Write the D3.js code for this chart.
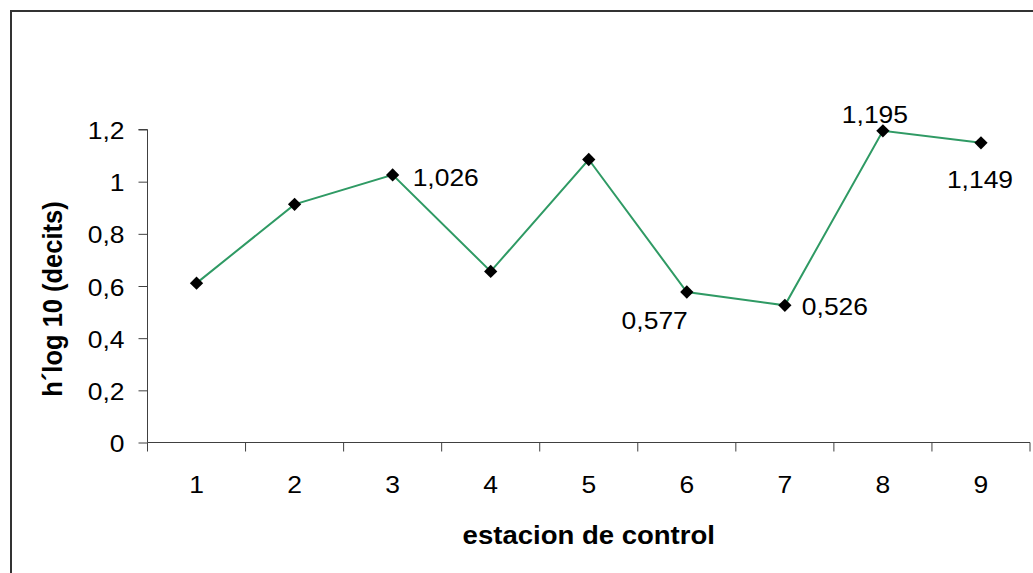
<!DOCTYPE html>
<html>
<head>
<meta charset="utf-8">
<script src="https://cdn.jsdelivr.net/npm/d3@7"></script>
<style>
  html, body { margin: 0; padding: 0; background: #fff; }
  svg { display: block; }
  text { font-family: "Liberation Sans", Arial, sans-serif; fill: #000; }
</style>
</head>
<body>
<svg id="chart" width="1033" height="573"></svg>
<script>
const categories = ["1", "2", "3", "4", "5", "6", "7", "8", "9"];
const values = [0.611, 0.913, 1.026, 0.656, 1.085, 0.577, 0.526, 1.195, 1.149];
const labelled = [false, false, true, false, false, true, true, true, true];
const yTicks = [0, 0.2, 0.4, 0.6, 0.8, 1, 1.2];
const xTitle = "estacion de control";
const yTitle = "h´log 10 (decits)";

const W = 1033, H = 573;
const svg = d3.select("#chart");
const m = { left: 147.5, right: 1030, top: 129.5, bottom: 442.5 };
const SX = 1.08; // horizontal stretch of the reference text
const fmt = v => String(v).replace(".", ",");

// outer frame
svg.append("rect").attr("x", 11).attr("y", 11).attr("width", W + 20).attr("height", H + 20)
  .attr("fill", "none").attr("stroke", "#333").attr("stroke-width", 2);

const x = d3.scaleBand().domain(categories).range([m.left, m.right]).padding(0);
const y = d3.scaleLinear().domain([0, 1.2]).range([m.bottom, m.top]);

// y axis
const yAxis = svg.append("g").attr("transform", `translate(${m.left},0)`)
  .call(d3.axisLeft(y).tickValues(yTicks).tickSize(9).tickFormat(fmt));
yAxis.select(".domain").attr("stroke", "#404040").attr("d", `M-9,${m.top}H0V${m.bottom}`);
yAxis.selectAll(".tick line").attr("stroke", "#404040");
yAxis.selectAll(".tick text").each(function () {
  const t = d3.select(this);
  t.attr("x", null).attr("dy", null)
   .attr("transform", `translate(-23,9) scale(${SX},1)`)
   .attr("font-size", 24.5).attr("text-anchor", "end").attr("fill", "#000");
});
yAxis.attr("font-family", null);

// x axis
const xAxis = svg.append("g").attr("transform", `translate(0,${m.bottom})`)
  .call(d3.axisBottom(x).tickSize(0).tickFormat(d => d));
xAxis.select(".domain").attr("stroke", "#404040").attr("d", `M${m.left},0H${m.right}`);
xAxis.selectAll(".tick text").each(function () {
  d3.select(this).attr("y", null).attr("dy", null)
    .attr("transform", `translate(0,50.5) scale(${SX},1)`)
    .attr("font-size", 24.5).attr("fill", "#000");
});
xAxis.attr("font-family", null);
// band boundary ticks
const bounds = categories.map(c => x(c)).concat([m.right]);
xAxis.selectAll("line.bt").data(bounds).enter().append("line").attr("class", "bt")
  .attr("x1", d => d).attr("x2", d => d).attr("y1", 0).attr("y2", 9)
  .attr("stroke", "#404040");

const cx = c => x(c) + x.bandwidth() / 2;

// line
const line = d3.line().x((d, i) => cx(categories[i])).y(d => y(d));
svg.append("path").datum(values).attr("d", line)
  .attr("fill", "none").attr("stroke", "#2f9a64").attr("stroke-width", 2);

// markers
const sym = d3.symbol().type(d3.symbolSquare).size(88);
svg.selectAll("path.mk").data(values).enter().append("path").attr("class", "mk")
  .attr("d", sym)
  .attr("transform", (d, i) => `translate(${cx(categories[i])},${y(d)}) rotate(45)`)
  .attr("fill", "#000");

// data labels (offsets relative to each point)
const labelPos = {
  2: { dx: 20, dy: 11, anchor: "start" },
  5: { dx: 1, dy: 37, anchor: "end" },
  6: { dx: 17, dy: 10, anchor: "start" },
  7: { dx: -8, dy: -8, anchor: "middle" },
  8: { dx: -1, dy: 45, anchor: "middle" }
};
values.forEach((v, i) => {
  if (!labelled[i]) return;
  const p = labelPos[i];
  svg.append("text")
    .attr("transform", `translate(${cx(categories[i]) + p.dx},${y(v) + p.dy}) scale(${SX},1)`)
    .attr("text-anchor", p.anchor).attr("font-size", 24.5)
    .text(fmt(v));
});

// axis titles
svg.append("text")
  .attr("transform", `translate(${(m.left + m.right) / 2},544) scale(${SX},1)`)
  .attr("text-anchor", "middle").attr("font-size", 25.5).attr("font-weight", "bold")
  .text(xTitle);
svg.append("text")
  .attr("transform", `translate(61.5,299) rotate(-90) scale(1,${SX})`)
  .attr("text-anchor", "middle").attr("font-size", 25.5).attr("font-weight", "bold")
  .text(yTitle);
</script>
</body>
</html>
